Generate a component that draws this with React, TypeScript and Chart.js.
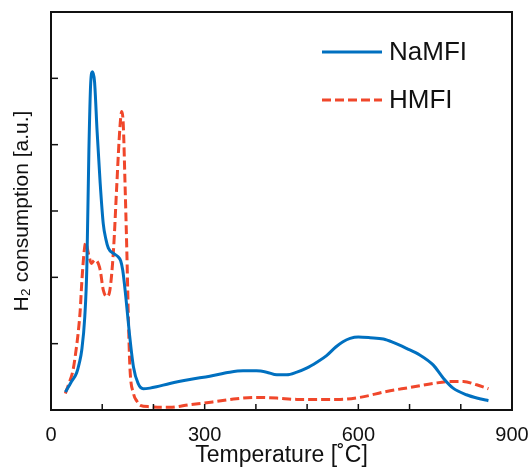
import React, { useEffect, useRef } from 'react';
import { Chart, registerables } from 'chart.js';

Chart.register(...registerables);

const seriesLabels = ['NaMFI', 'HMFI'];

const naTemps = [28, 35, 40, 50, 55, 60, 66, 70, 74, 77.5, 81, 85, 90, 96, 102, 107, 112, 122, 131, 136, 140, 146, 153, 161, 170, 180, 193, 206, 232, 271, 310, 349, 375, 401, 421, 441, 460, 480, 499, 519, 538, 556, 570, 584, 600, 623, 649, 668, 694, 720, 746, 766, 785, 811, 837, 854];
const naValues = [0.27, 0.36, 0.43, 0.56, 0.7, 0.9, 1.41, 2.16, 3.92, 4.93, 5.1, 4.95, 4.2, 3.42, 2.81, 2.58, 2.44, 2.36, 2.31, 2.25, 2.11, 1.71, 1.16, 0.65, 0.4, 0.32, 0.33, 0.35, 0.4, 0.46, 0.51, 0.57, 0.59, 0.59, 0.57, 0.53, 0.53, 0.57, 0.63, 0.72, 0.82, 0.95, 1.03, 1.08, 1.1, 1.09, 1.07, 1.02, 0.93, 0.83, 0.68, 0.48, 0.33, 0.23, 0.17, 0.14];

const hTemps = [28, 36, 43, 48, 53, 57, 60, 65, 68, 73, 79, 85, 89, 96, 102, 109, 115, 122, 128, 133, 136, 138, 141, 144.5, 148, 151, 154, 161, 168, 174, 193, 213, 232, 271, 304, 323, 362, 401, 441, 480, 532, 564, 603, 655, 701, 746, 779, 805, 831, 854];
const hValues = [0.25, 0.42, 0.6, 0.85, 1.16, 1.5, 1.91, 2.41, 2.52, 2.36, 2.21, 2.26, 2.25, 2.11, 1.81, 1.71, 1.81, 2.41, 3.32, 4.07, 4.4, 4.5, 4.32, 3.42, 2.41, 1.41, 0.65, 0.25, 0.13, 0.07, 0.05, 0.04, 0.04, 0.08, 0.11, 0.13, 0.17, 0.19, 0.18, 0.16, 0.16, 0.16, 0.19, 0.28, 0.34, 0.4, 0.43, 0.43, 0.38, 0.32];

const xTickLabels = ['0', '300', '600', '900'];

const BLUE = '#0070c0';
const RED = '#f0472b';
const INK = '#111111';
const FONT = "'Liberation Sans', Arial, sans-serif";

const framePlugin = {
  id: 'frameTicksLegend',
  afterDraw(chart: any) {
    const { ctx, chartArea: a, scales } = chart;
    ctx.save();
    ctx.strokeStyle = INK;
    ctx.lineWidth = 1.5;
    scales.x.ticks.forEach((t: any) => {
      const px = scales.x.getPixelForValue(t.value);
      if (px <= a.left + 1 || px >= a.right - 1) return;
      ctx.beginPath();
      ctx.moveTo(px, a.bottom);
      ctx.lineTo(px, a.bottom - 6);
      ctx.stroke();
    });
    scales.y.ticks.forEach((t: any) => {
      const py = scales.y.getPixelForValue(t.value);
      if (py <= a.top + 1 || py >= a.bottom - 1) return;
      ctx.beginPath();
      ctx.moveTo(a.left, py);
      ctx.lineTo(a.left + 7, py);
      ctx.stroke();
    });
    ctx.lineWidth = 2;
    ctx.strokeRect(a.left, a.top, a.right - a.left, a.bottom - a.top);
    const items = chart.data.datasets;
    const ys = [52, 100];
    items.forEach((ds: any, i: number) => {
      ctx.beginPath();
      ctx.strokeStyle = ds.borderColor;
      ctx.lineWidth = 3;
      ctx.setLineDash(ds.borderDash || []);
      ctx.moveTo(322, ys[i]);
      ctx.lineTo(382, ys[i]);
      ctx.stroke();
      ctx.setLineDash([]);
      ctx.fillStyle = INK;
      ctx.font = `26px ${FONT}`;
      ctx.textBaseline = 'middle';
      ctx.textAlign = 'left';
      ctx.fillText(ds.label, 389, ys[i] + 1);
    });
    ctx.restore();
  },
};

export default function App() {
  const ref = useRef<HTMLCanvasElement | null>(null);
  useEffect(() => {
    if (!ref.current) return;
    const chart = new Chart(ref.current, {
      type: 'line',
      data: {
        datasets: [
          {
            label: seriesLabels[0],
            data: naTemps.map((t, i) => ({ x: t, y: naValues[i] })),
            borderColor: BLUE,
            borderWidth: 3,
            pointRadius: 0,
            cubicInterpolationMode: 'monotone',
            fill: false,
          },
          {
            label: seriesLabels[1],
            data: hTemps.map((t, i) => ({ x: t, y: hValues[i] })),
            borderColor: RED,
            borderWidth: 3,
            borderDash: [9, 4],
            pointRadius: 0,
            cubicInterpolationMode: 'monotone',
            fill: false,
          },
        ],
      },
      options: {
        animation: false,
        responsive: true,
        maintainAspectRatio: false,
        layout: { padding: { top: 12, right: 16, left: 0, bottom: 0 } },
        plugins: { legend: { display: false }, tooltip: { enabled: false } },
        scales: {
          x: {
            type: 'linear',
            min: 0,
            max: 900,
            grid: { display: false },
            border: { display: false },
            ticks: {
              stepSize: 100,
              autoSkip: false,
              maxRotation: 0,
              padding: 5,
              color: INK,
              font: { family: FONT, size: 20 },
              callback: (v: any) => {
                const s = String(v);
                return xTickLabels.includes(s) ? s : '';
              },
            },
            title: {
              display: true,
              text: 'Temperature [˚C]',
              color: INK,
              font: { family: FONT, size: 23, lineHeight: 1 },
              padding: { top: 0, bottom: 0 },
            },
            afterFit: (s: any) => {
              s.height = 57;
              s.paddingLeft = 0;
              s.paddingRight = 0;
            },
          },
          y: {
            type: 'linear',
            min: 0,
            max: 6,
            grid: { display: false },
            border: { display: false },
            ticks: { stepSize: 1, display: false },
            title: {
              display: true,
              text: 'H₂ consumption [a.u.]',
              color: INK,
              font: { family: FONT, size: 21 },
              padding: { top: 10, bottom: 0 },
            },
            afterFit: (s: any) => {
              s.width = 51;
              s.paddingTop = 0;
              s.paddingBottom = 0;
            },
          },
        },
      },
      plugins: [framePlugin],
    });
    return () => chart.destroy();
  }, []);
  return (
    <div style={{ position: 'fixed', left: 0, top: 0, width: 528, height: 467, background: '#fff' }}>
      <canvas ref={ref} />
    </div>
  );
}
